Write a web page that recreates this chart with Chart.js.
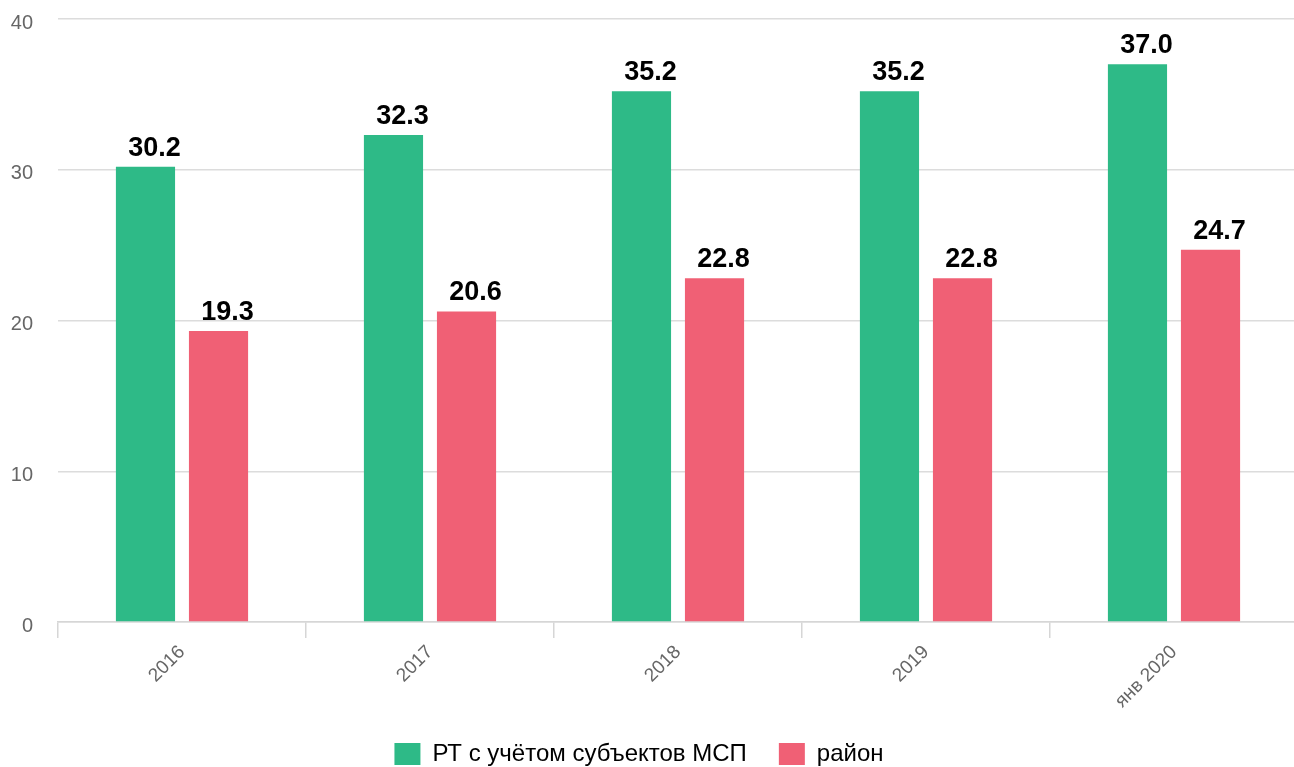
<!DOCTYPE html>
<html>
<head>
<meta charset="utf-8">
<script src="https://cdn.jsdelivr.net/npm/chart.js@4"></script>
<style>
  html, body { margin: 0; padding: 0; background: #fff; overflow: hidden; }
  #wrap { width: 1298px; height: 767px; position: relative; }
</style>
</head>
<body>
<div id="wrap"><canvas id="c"></canvas></div>
<script>
const categories = ['2016', '2017', '2018', '2019', 'янв 2020'];
const seriesRT = [30.2, 32.3, 35.2, 35.2, 37.0];
const seriesRayon = [19.3, 20.6, 22.8, 22.8, 24.7];
const seriesNames = ['РТ с учётом субъектов МСП', 'район'];
const yTicks = [0, 10, 20, 30, 40];

const FONT = '"Liberation Sans", Arial, sans-serif';
const LEGEND_SHIFT_Y = 9;
const LEGEND_SHIFT_X = -10;

const valueLabels = {
  id: 'valueLabels',
  afterDatasetsDraw(chart) {
    const ctx = chart.ctx;
    ctx.save();
    ctx.font = 'bold 27px ' + FONT;
    ctx.fillStyle = '#000';
    ctx.textAlign = 'center';
    ctx.textBaseline = 'alphabetic';
    chart.data.datasets.forEach((ds, di) => {
      const meta = chart.getDatasetMeta(di);
      if (meta.hidden) return;
      meta.data.forEach((bar, i) => {
        ctx.fillText(ds.data[i].toFixed(1), bar.x + 9, bar.y - 11);
      });
    });
    ctx.restore();
  }
};

const layoutTweak = {
  id: 'layoutTweak',
  afterLayout(chart) {
    if (chart.legend) {
      chart.legend.top += LEGEND_SHIFT_Y;
      chart.legend.bottom += LEGEND_SHIFT_Y;
      chart.legend.left += LEGEND_SHIFT_X;
      chart.legend.right += LEGEND_SHIFT_X;
    }
    if (chart.scales.x) {
      chart.scales.x.bottom += 20;
    }
  }
};

new Chart(document.getElementById('c'), {
  type: 'bar',
  data: {
    labels: categories,
    datasets: [
      { label: seriesNames[0], data: seriesRT, backgroundColor: '#2EBA87' },
      { label: seriesNames[1], data: seriesRayon, backgroundColor: '#F06075' }
    ]
  },
  options: {
    responsive: true,
    maintainAspectRatio: false,
    animation: false,
    categoryPercentage: 0.589,
    barPercentage: 0.81,
    layout: { padding: { top: 19, left: 0, right: 0, bottom: 0 } },
    plugins: {
      tooltip: { enabled: false },
      legend: {
        position: 'bottom',
        labels: {
          boxWidth: 26,
          boxHeight: 22,
          padding: 32,
          color: '#000',
          font: { family: FONT, size: 24 }
        }
      }
    },
    scales: {
      x: {
        grid: { drawOnChartArea: false, drawTicks: true, tickLength: 16, color: '#d6d6d6', lineWidth: 1.5, offset: true },
        border: { display: true, color: '#d6d6d6', width: 1.5 },
        ticks: { color: '#666', font: { family: FONT, size: 19 }, maxRotation: 45, minRotation: 45, padding: 3 },
        afterFit(scale) { scale.height = 79; }
      },
      y: {
        min: 0, max: 40,
        afterBuildTicks(scale) { scale.ticks = yTicks.map(v => ({ value: v })); },
        grid: { drawTicks: false, color: '#dcdcdc', lineWidth: 1.5 },
        border: { display: false },
        ticks: { color: '#666', font: { family: FONT, size: 20 }, padding: 25, labelOffset: 4 },
        afterFit(scale) { scale.width = 58; scale.paddingTop = 0; scale.paddingBottom = 0; }
      }
    }
  },
  plugins: [valueLabels, layoutTweak]
});
</script>
</body>
</html>
